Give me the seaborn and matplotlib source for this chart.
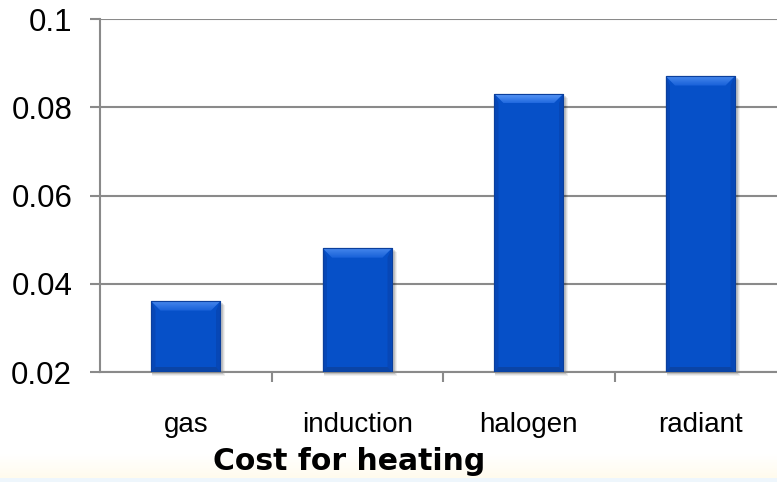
import numpy as np
import matplotlib
matplotlib.use("Agg")
import matplotlib.pyplot as plt
import matplotlib.colors as mcolors
from matplotlib.patches import Polygon, Rectangle
from matplotlib.transforms import IdentityTransform
from matplotlib.ticker import FixedLocator
import seaborn as sns
import pandas as pd

# Data
categories = ["gas", "induction", "halogen", "radiant"]
costs = [0.036, 0.048, 0.083, 0.087]
y_ticks = [0.02, 0.04, 0.06, 0.08, 0.1]
y_tick_labels = ["0.02", "0.04", "0.06", "0.08", "0.1"]
title = "Cost for heating"

sns.set_theme(style="white")
plt.rcParams['font.family'] = ['Liberation Sans', 'DejaVu Sans']

W, H = 777, 482
GRAY = "#8a8a8a"
BLUE = "#0650c8"

fig = plt.figure(figsize=(W / 100, H / 100), dpi=100)
fig.patch.set_facecolor("white")

# faint footer band
band_top = 29 / H
n = 20
cream = np.array(mcolors.to_rgb("#fffaea"))
white = np.array([1, 1, 1])
for i in range(n):
    f = i / (n - 1)
    c = white * f + cream * (1 - f)
    fig.add_artist(Rectangle((0, band_top * i / n), 1, band_top / n + 0.002,
                             transform=fig.transFigure, color=c, lw=0, zorder=0))
fig.add_artist(Rectangle((0, 0), 1, 4 / H, transform=fig.transFigure,
                         color="#eef6fc", lw=0, zorder=0))

ax = fig.add_axes([100 / W, 110 / H, 686 / W, 353 / H])
ax.set_facecolor("none")
df = pd.DataFrame({"method": categories, "cost": costs})
sns.barplot(data=df, x="method", y="cost", ax=ax, width=0.4, color=BLUE,
            saturation=1, edgecolor="#0b3f9c", linewidth=0.8, zorder=3)

ax.set_ylim(0.02, 0.1)
ax.set_xlim(-0.5, 3.5)
ax.set_yticks(y_ticks)
ax.set_yticklabels(y_tick_labels)
ax.set_xlabel("")
ax.set_ylabel("")

ax.set_axisbelow(True)
ax.yaxis.grid(True, color=GRAY, lw=1.5, zorder=0)
ax.xaxis.grid(False)
for side in ["top", "right"]:
    ax.spines[side].set_visible(False)
for side in ["left", "bottom"]:
    ax.spines[side].set_color(GRAY)
    ax.spines[side].set_linewidth(1.5)

ax.tick_params(axis="y", which="major", length=7, width=1.5, color=GRAY,
               direction="out", pad=13, labelsize=22.5, labelcolor="black", left=True)
ax.tick_params(axis="x", which="major", length=0, pad=29, labelsize=20,
               labelcolor="black")
ax.xaxis.set_minor_locator(FixedLocator([0.5, 1.5, 2.5]))
ax.tick_params(axis="x", which="minor", length=7, width=1.5, color=GRAY,
               direction="out", bottom=True)

fig.text(349 / W, 1 - 461 / H, title, ha="center", va="center", color="black",
         fontsize=21.5, fontweight="bold", family=["DejaVu Sans"])

# bevelled bar styling, built from the bars seaborn drew
fig.canvas.draw()
ymin = ax.get_ylim()[0]
for p in list(ax.patches):
    x0d = p.get_x()
    x1d = x0d + p.get_width()
    y1d = p.get_y() + p.get_height()
    y0d = max(p.get_y(), ymin)
    (x0, y0) = ax.transData.transform((x0d, y0d))
    (x1, y1) = ax.transData.transform((x1d, y1d))
    tr = IdentityTransform()
    # drop shadow
    for k, a in [(4, 0.06), (3, 0.08), (2, 0.12)]:
        ax.add_patch(Rectangle((x0 + 1, y0 - k), x1 - x0 + k, y1 - y0, transform=tr,
                               color="black", alpha=a, lw=0, zorder=2, clip_on=False))
    b = 9
    # sides
    ax.add_patch(Polygon([(x0, y0), (x0, y1), (x0 + 4, y1 - b), (x0 + 4, y0 + 4)],
                         closed=True, transform=tr, color="#0747b6", lw=0, zorder=4))
    ax.add_patch(Polygon([(x1, y0), (x1, y1), (x1 - 4, y1 - b), (x1 - 4, y0 + 4)],
                         closed=True, transform=tr, color="#0747b6", lw=0, zorder=4))
    # bottom
    ax.add_patch(Polygon([(x0, y0), (x1, y0), (x1 - 4, y0 + 5), (x0 + 4, y0 + 5)],
                         closed=True, transform=tr, color="#0a44a6", lw=0, zorder=4))
    # top highlight with vertical gradient
    top_c = np.array(mcolors.to_rgb("#5796f6"))
    bot_c = np.array(mcolors.to_rgb("#1d66de"))
    steps = 9
    for i in range(steps):
        t0 = i / steps
        t1 = (i + 1) / steps
        ya, yb = y1 - b * t0, y1 - b * t1
        xa0, xa1 = x0 + b * t0, x1 - b * t0
        xb0, xb1 = x0 + b * t1, x1 - b * t1
        c = top_c * (1 - t0) + bot_c * t0
        ax.add_patch(Polygon([(xa0, ya), (xa1, ya), (xb1, yb), (xb0, yb)], closed=True,
                             transform=tr, color=c, lw=0, zorder=5))
    ax.add_patch(Rectangle((x0, y0), x1 - x0, y1 - y0, transform=tr, fill=False,
                           edgecolor="#0b3f9c", lw=0.8, zorder=6))

fig.savefig("out.png", dpi=100)
